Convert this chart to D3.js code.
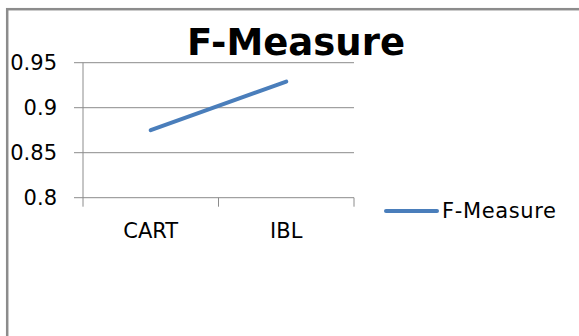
<!DOCTYPE html>
<html>
<head>
<meta charset="utf-8">
<script src="https://cdn.jsdelivr.net/npm/d3@7"></script>
<style>
	body { margin: 0; background: #fff; }
	text { font-family: 'DejaVu Sans', sans-serif; fill: #000; }
</style>
</head>
<body>
<div id="chart"></div>
<script>
// chart data
const categories = ['CART', 'IBL'];
const fMeasure = [0.875, 0.929];
const yTicks = [0.8, 0.85, 0.9, 0.95];
const seriesName = 'F-Measure';

const width = 579;
const height = 336;
const plot = { left: 83, right: 354, top: 62.7, bottom: 197.7 };

const svg = d3.select('#chart')
	.append('svg')
	.attr('width', width)
	.attr('height', height);

// outer frame (runs off the right and bottom edge)
svg.append('rect')
	.attr('x', 7.2)
	.attr('y', 9.2)
	.attr('width', 600)
	.attr('height', 400)
	.attr('fill', '#fff')
	.attr('stroke', '#8c8c8c')
	.attr('stroke-width', 2.5);

const x = d3.scaleBand()
	.domain(categories)
	.range([plot.left, plot.right]);

const y = d3.scaleLinear()
	.domain([0.8, 0.95])
	.range([plot.bottom, plot.top]);

// gridlines + left tick marks
svg.append('g')
	.selectAll('line')
	.data(yTicks)
	.enter()
	.append('line')
	.attr('x1', plot.left - 9)
	.attr('x2', plot.right)
	.attr('y1', d => y(d))
	.attr('y2', d => y(d))
	.attr('stroke', '#8c8c8c')
	.attr('stroke-width', 1);

// y axis line
svg.append('line')
	.attr('x1', plot.left)
	.attr('x2', plot.left)
	.attr('y1', plot.top)
	.attr('y2', plot.bottom + 9)
	.attr('stroke', '#8c8c8c');

// category boundary ticks
const bounds = categories.map(c => x(c) + x.bandwidth());
svg.append('g')
	.selectAll('line')
	.data(bounds)
	.enter()
	.append('line')
	.attr('x1', d => d)
	.attr('x2', d => d)
	.attr('y1', plot.bottom)
	.attr('y2', plot.bottom + 9)
	.attr('stroke', '#8c8c8c');

// y labels
svg.append('g')
	.selectAll('text')
	.data(yTicks)
	.enter()
	.append('text')
	.attr('x', 57)
	.attr('y', d => y(d))
	.attr('dy', '0.36em')
	.attr('text-anchor', 'end')
	.style('font-size', '21px')
	.text(d => d3.format('')(d));

// x labels
svg.append('g')
	.selectAll('text')
	.data(categories)
	.enter()
	.append('text')
	.attr('x', d => x(d) + x.bandwidth() / 2)
	.attr('y', 237.5)
	.attr('text-anchor', 'middle')
	.style('font-size', '21px')
	.text(d => d);

// the series line
const line = d3.line()
	.x((d, i) => x(categories[i]) + x.bandwidth() / 2)
	.y(d => y(d));

svg.append('path')
	.datum(fMeasure)
	.attr('d', line)
	.attr('fill', 'none')
	.attr('stroke', '#4a7ebb')
	.attr('stroke-width', 4)
	.attr('stroke-linecap', 'round');

// title
svg.append('text')
	.attr('x', 296)
	.attr('y', 55)
	.attr('text-anchor', 'middle')
	.style('font-size', '37px')
	.style('font-weight', 'bold')
	.text(seriesName);

// legend
svg.append('line')
	.attr('x1', 386)
	.attr('x2', 437)
	.attr('y1', 211)
	.attr('y2', 211)
	.attr('stroke', '#4a7ebb')
	.attr('stroke-width', 4)
	.attr('stroke-linecap', 'round');

svg.append('text')
	.attr('x', 442)
	.attr('y', 218)
	.attr('textLength', 114)
	.attr('lengthAdjust', 'spacing')
	.style('font-size', '21px')
	.text(seriesName);
</script>
</body>
</html>
